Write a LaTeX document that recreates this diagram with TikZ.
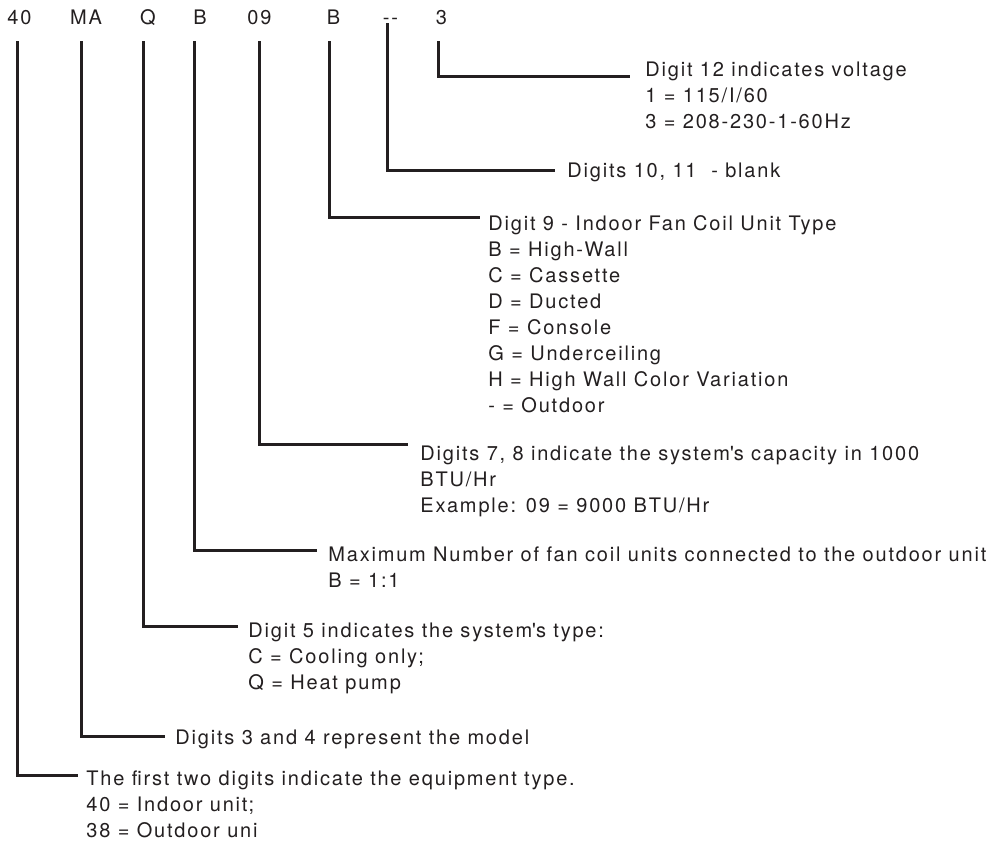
\documentclass[tikz,border=0pt]{standalone}
\usepackage{fontspec}
\setmainfont{TeX Gyre Heros}[LetterSpace=9]
\usetikzlibrary{positioning}
\definecolor{ink}{HTML}{231F20}

\begin{document}
\begin{tikzpicture}[
		x=0.5pt, y=-0.5pt,
		code/.style={anchor=base, inner sep=0pt, font=\fontsize{10}{13}\selectfont, text=ink},
		desc/.style={anchor=north west, inner sep=0pt, align=left, font=\fontsize{10}{13}\selectfont, text=ink},
		leader/.style={draw=ink, line width=1.5pt}
		]
		\useasboundingbox (0,0) rectangle (1002,843);
		
		% Characters of the model number along the top
		\node[code] (c40)   at (19.5,24)  {40};
		\node[code] (cMA)   at (86,24)    {MA};
		\node[code] (cQ)    at (148,24)   {Q};
		\node[code] (cB)    at (200,24)   {B};
		\node[code] (c09)   at (259.5,24) {09};
		\node[code] (cB2)   at (333.5,24) {B};
		\node[code] (cdash) at (390.5,24) {-{}-};
		\node[code] (c3)    at (441.5,24) {3};
		
		% Explanations, first line level with the leader
		\node[desc] (d3)    at (645,62)  {Digit 12 indicates voltage\\ 1 = 115/I/60\\ 3 = 208-230-1-60Hz};
		\node[desc] (ddash) at (567,163) {Digits 10, 11~ - blank};
		\node[desc] (dB2)   at (488,215) {Digit 9 - Indoor Fan Coil Unit Type\\ B = High-Wall\\ C = Cassette\\ D = Ducted\\ F = Console\\ G = Underceiling\\ H = High Wall Color Variation\\ - = Outdoor};
		\node[desc] (d09)   at (420,446) {Digits 7, 8 indicate the system\textquotesingle s capacity in 1000\\ BTU/Hr\\ Example: 09 = 9000 BTU/Hr};
		\node[desc] (dB)    at (328,546) {Maximum Number of fan coil units connected to the outdoor unit\\ B = 1:1};
		\node[desc] (dQ)    at (248,623) {Digit 5 indicates the system\textquotesingle s type:\\ C = Cooling only;\\ Q = Heat pump};
		\node[desc] (dMA)   at (175,730) {Digits 3 and 4 represent the model};
		\node[desc] (d40)   at (86,770)  {The first two digits indicate the equipment type.\\ 40 = Indoor unit;\\ 38 = Outdoor uni};
		
		% Leaders from each character down and across to its text
		\draw[leader] ([xshift=-1.75pt, yshift=-8.5pt]c3.base) |- ([xshift=-7.5pt, yshift=-7pt]d3.north west);
		\draw[leader] ([xshift=-1.75pt, yshift=0.5pt]cdash.base) |- ([xshift=-6pt, yshift=-3.5pt]ddash.north west);
		\draw[leader] ([xshift=-2.25pt, yshift=-8.5pt]cB2.base) |- ([xshift=-4pt, yshift=-1pt]dB2.north west);
		\draw[leader] ([xshift=-0.25pt, yshift=-8.5pt]c09.base) |- ([xshift=-6pt, yshift=1pt]d09.north west);
		\draw[leader] ([xshift=-3pt, yshift=-8.5pt]cB.base) |- ([xshift=-5.5pt, yshift=-2pt]dB.north west);
		\draw[leader] ([xshift=-2.5pt, yshift=-8.5pt]cQ.base) |- ([xshift=-5pt, yshift=-1.5pt]dQ.north west);
		\draw[leader] ([xshift=-2.5pt, yshift=-8.5pt]cMA.base) |- ([xshift=-5pt, yshift=-3pt]dMA.north west);
		\draw[leader] ([xshift=-1.25pt, yshift=-8.5pt]c40.base) |- ([xshift=-4pt, yshift=-2.5pt]d40.north west);
		
	\end{tikzpicture}
\end{document}
